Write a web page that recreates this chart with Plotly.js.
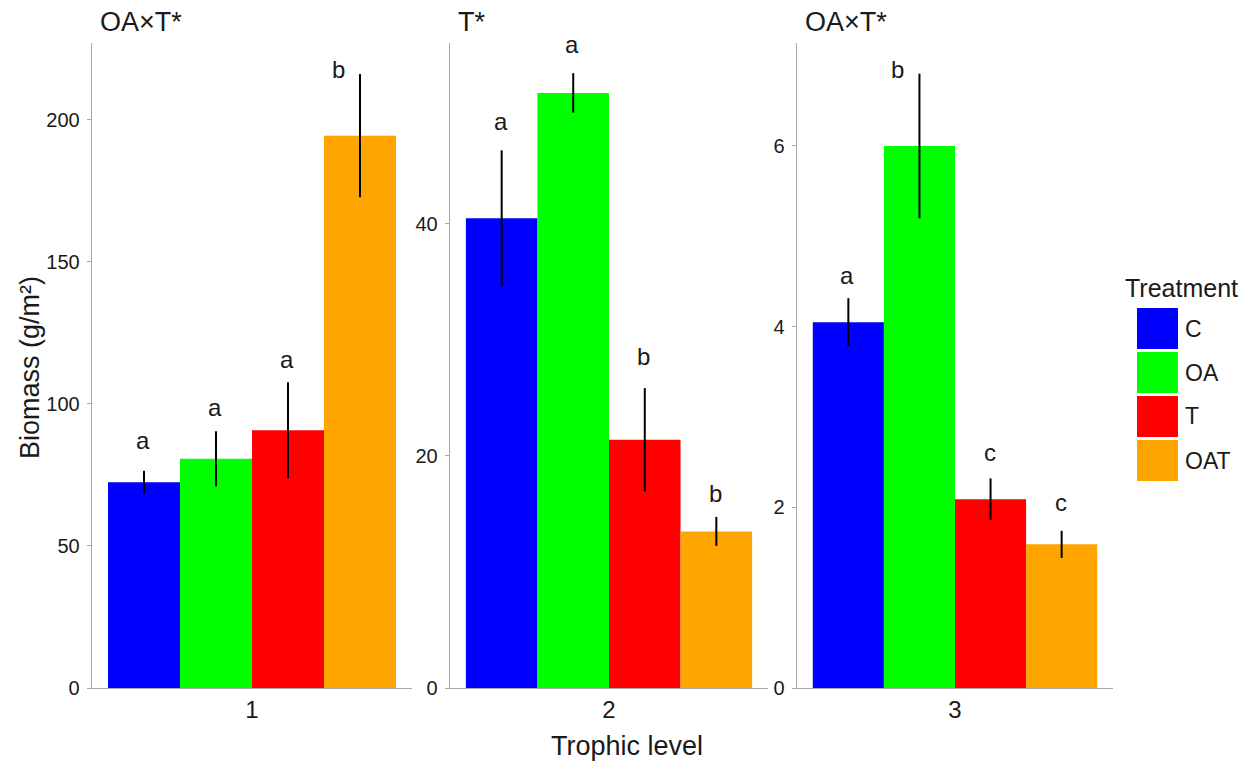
<!DOCTYPE html>
<html><head><meta charset="utf-8">
<script src="https://cdn.plot.ly/plotly-3.0.1.min.js"></script>
<style>html,body{margin:0;padding:0;background:#fff}#chart{width:1259px;height:761px}</style>
</head><body><div id="chart"></div>
<script>
const treatments = ['C', 'OA', 'T', 'OAT'];
const colors = ['#0000FF', '#00FF00', '#FF0000', '#FFA500'];
const levels = ['1', '2', '3'];
const panelTitles = ['OA×T*', 'T*', 'OA×T*'];

// Biomass means and standard errors per trophic level (order: C, OA, T, OAT)
const level1Mean = [72.4, 80.7, 90.7, 194.4];
const level1SE   = [4.1, 9.7, 16.9, 21.7];
const level2Mean = [40.5, 51.3, 21.4, 13.5];
const level2SE   = [5.85, 1.7, 4.45, 1.25];
const level3Mean = [4.05, 6.0, 2.09, 1.59];
const level3SE   = [0.265, 0.8, 0.23, 0.15];

// significance letters
const level1Letters = ['a', 'a', 'a', 'b'];
const level2Letters = ['a', 'a', 'b', 'b'];
const level3Letters = ['a', 'b', 'c', 'c'];
// letter heights (data units)
const level1LetterY = [87.1, 98.8, 115.7, 217.6];
const level2LetterY = [48.8, 55.5, 28.6, 16.8];
const level3LetterY = [4.57, 6.85, 2.61, 2.05];

const yMax = [227, 55.6, 7.14];
const yTicks = [[0, 50, 100, 150, 200], [0, 20, 40], [0, 2, 4, 6]];

const means = [level1Mean, level2Mean, level3Mean];
const ses = [level1SE, level2SE, level3SE];
const letters = [level1Letters, level2Letters, level3Letters];
const letterY = [level1LetterY, level2LetterY, level3LetterY];

const W = 1259, H = 761;
const FONT = 'Liberation Sans, Arial, Helvetica, sans-serif';
const xDomPx = [[92, 412], [450, 768], [797, 1113]];
const yTopPx = 43, yBotPx = 688;
const bargap = 0.1;

const traces = [];
const annotations = [];
const shapes = [];
const layout = {
  width: W, height: H,
  margin: {l: 0, r: 0, t: 0, b: 0},
  paper_bgcolor: '#fff', plot_bgcolor: '#fff',
  barmode: 'group', bargap: bargap, bargroupgap: 0,
  showlegend: false,
  font: {family: FONT, color: '#1a1a1a'},
  hovermode: false
};

for (let p = 0; p < 3; p++) {
  const xa = p === 0 ? 'x' : 'x' + (p + 1);
  const ya = p === 0 ? 'y' : 'y' + (p + 1);
  const xk = p === 0 ? 'xaxis' : 'xaxis' + (p + 1);
  const yk = p === 0 ? 'yaxis' : 'yaxis' + (p + 1);
  for (let i = 0; i < treatments.length; i++) {
    traces.push({
      type: 'bar', name: treatments[i],
      x: [levels[p]], y: [means[p][i]],
      xaxis: xa, yaxis: ya,
      marker: {color: colors[i], line: {width: 0}},
      error_y: {type: 'data', array: [ses[p][i]], visible: true, color: '#000', thickness: 2, width: 0},
      showlegend: false, hoverinfo: 'skip'
    });
    // letter annotation at bar center
    const groupW = 1 - bargap;
    const barW = groupW / treatments.length;
    const cx = -groupW / 2 + barW * (i + 0.5);
    const isLeft = (p === 0 && i === 3) || (p === 2 && i === 1);
    annotations.push({
      xref: xa, yref: ya, x: cx, y: letterY[p][i],
      text: letters[p][i], showarrow: false,
      xshift: isLeft ? -22 : -1,
      font: {family: FONT, size: 24, color: '#1a1a1a'},
      xanchor: 'center', yanchor: 'middle'
    });
  }
  layout[xk] = {
    domain: [xDomPx[p][0] / W, xDomPx[p][1] / W],
    anchor: ya, type: 'category', range: [-0.5, 0.5],
    showline: true, linecolor: '#a8a8a8', linewidth: 1.3,
    ticks: '', showgrid: false, zeroline: false,
    tickfont: {family: FONT, size: 24, color: '#1a1a1a'},
    fixedrange: true, automargin: false
  };
  layout[yk] = {
    domain: [1 - yBotPx / H, 1 - yTopPx / H],
    anchor: xa, range: [0, yMax[p]],
    tickvals: yTicks[p], ticktext: yTicks[p].map(String),
    showline: true, linecolor: '#a8a8a8', linewidth: 1.3,
    ticks: 'outside', ticklen: 4, tickcolor: '#a8a8a8', tickwidth: 1,
    ticklabelstandoff: 3,
    showgrid: false, zeroline: false,
    tickfont: {family: FONT, size: 20, color: '#1a1a1a'},
    fixedrange: true, automargin: false
  };
  // panel title
  annotations.push({
    xref: 'paper', yref: 'paper',
    x: (xDomPx[p][0] + 6) / W, y: 1 - 22 / H,
    text: panelTitles[p], showarrow: false,
    xanchor: 'left', yanchor: 'middle',
    font: {family: FONT, size: 27, color: '#1a1a1a'}
  });
}

// axis titles
annotations.push({
  xref: 'paper', yref: 'paper', x: 30 / W, y: 1 - 368 / H,
  text: 'Biomass (g/m²)', textangle: -90, showarrow: false,
  xanchor: 'center', yanchor: 'middle',
  font: {family: FONT, size: 27, color: '#1a1a1a'}
});
annotations.push({
  xref: 'paper', yref: 'paper', x: 627 / W, y: 1 - 746 / H,
  text: 'Trophic level', showarrow: false,
  xanchor: 'center', yanchor: 'middle',
  font: {family: FONT, size: 27, color: '#1a1a1a'}
});

// legend (drawn)
annotations.push({
  xref: 'paper', yref: 'paper', x: 1123 / W, y: 1 - 288 / H,
  text: 'Treatment', showarrow: false, xanchor: 'left', yanchor: 'middle',
  font: {family: FONT, size: 25, color: '#1a1a1a'}
});
const keyTop = 308, keyPitch = 44, keyH = 41, keyL = 1137, keyR = 1178;
for (let i = 0; i < treatments.length; i++) {
  const t = keyTop + i * keyPitch;
  shapes.push({
    type: 'rect', xref: 'paper', yref: 'paper',
    x0: keyL / W, x1: keyR / W, y0: 1 - (t + keyH) / H, y1: 1 - t / H,
    fillcolor: colors[i], line: {width: 0}
  });
  annotations.push({
    xref: 'paper', yref: 'paper', x: 1183 / W, y: 1 - (t + keyH / 2) / H,
    text: treatments[i], showarrow: false, xanchor: 'left', yanchor: 'middle',
    font: {family: FONT, size: 23, color: '#1a1a1a'}
  });
}

layout.annotations = annotations;
layout.shapes = shapes;

Plotly.newPlot('chart', traces, layout, {displayModeBar: false, staticPlot: true});
</script>
</body></html>
